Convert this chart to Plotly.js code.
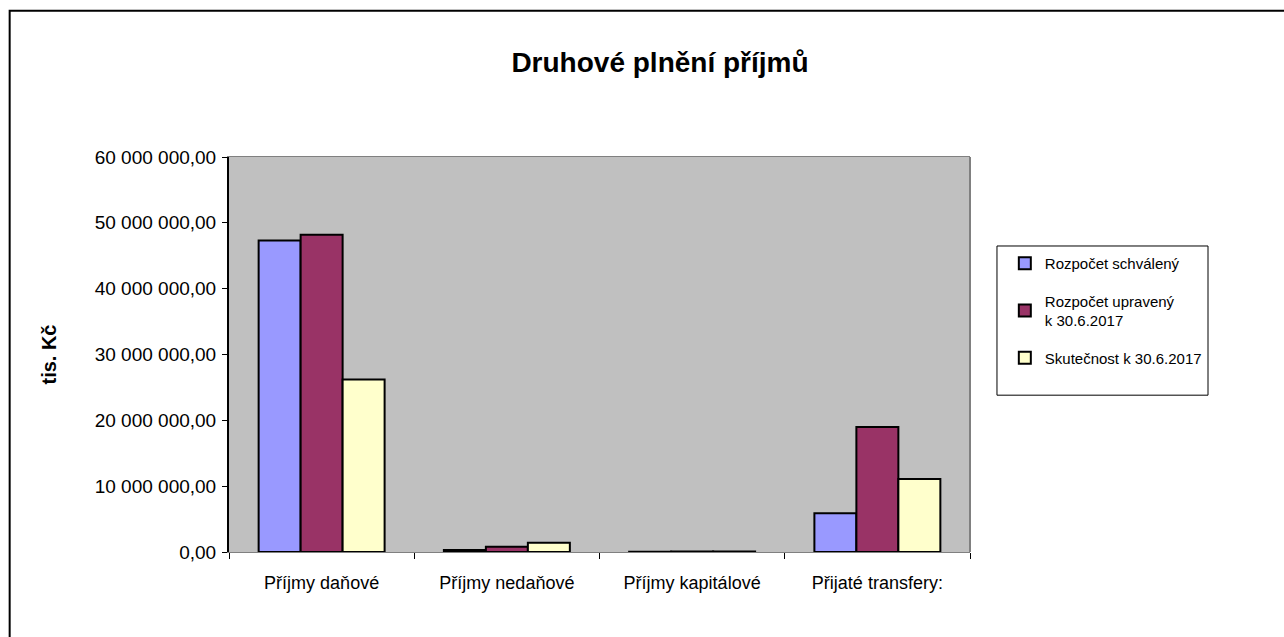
<!DOCTYPE html>
<html>
<head>
<meta charset="utf-8">
<script src="https://cdn.plot.ly/plotly-3.0.1.min.js"></script>
<style>
  html, body { margin: 0; padding: 0; background: #fff; }
  #chart { width: 1284px; height: 637px; }
</style>
</head>
<body>
<div id="chart"></div>
<script>
const categories = ['Příjmy daňové', 'Příjmy nedaňové', 'Příjmy kapitálové', 'Přijaté transfery:'];

const seriesNames = ['Rozpočet schválený', 'Rozpočet upravený<br>k 30.6.2017', 'Skutečnost k 30.6.2017'];
const schvaleny = [47300000, 300000, 50000, 5900000];
const upraveny = [48200000, 800000, 80000, 19000000];
const skutecnost = [26200000, 1400000, 60000, 11100000];
const colors = ['#9999FF', '#993366', '#FFFFCC'];

const sans = 'Liberation Sans, Arial, sans-serif';

const data = [schvaleny, upraveny, skutecnost].map((vals, i) => ({
  type: 'bar',
  x: categories,
  y: vals,
  name: seriesNames[i],
  legendgroup: 'g' + i,
  marker: { color: colors[i], line: { color: '#000', width: 2 } },
  hoverinfo: 'none'
}));

const layout = {
  width: 1284,
  height: 637,
  margin: { l: 229, r: 314, t: 157, b: 85 },
  paper_bgcolor: '#fff',
  plot_bgcolor: '#C0C0C0',
  separators: ', ',
  font: { family: sans, size: 17, color: '#000' },
  title: {
    text: '<b>Druhové plnění příjmů</b>',
    font: { family: sans, size: 28, color: '#000' },
    x: 0.514, xref: 'container', xanchor: 'center',
    y: 0.902, yref: 'container', yanchor: 'middle'
  },
  barmode: 'group',
  bargap: 0.32,
  bargroupgap: 0,
  xaxis: {
    type: 'category',
    showline: true, linecolor: '#808080', linewidth: 1, mirror: true,
    ticks: 'outside', tickson: 'boundaries', ticklen: 6, tickcolor: '#000',
    ticklabelstandoff: 14,
    showgrid: false,
    tickfont: { family: sans, size: 18 }
  },
  yaxis: {
    range: [0, 60000000],
    dtick: 10000000,
    tickformat: ',.2f',
    showline: true, linecolor: '#000', linewidth: 2,
    ticks: 'outside', ticklen: 5, tickcolor: '#000',
    ticklabelstandoff: 2,
    showgrid: false, zeroline: false,
    tickfont: { family: sans, size: 19 },
    title: {
      text: '<b>tis. Kč</b>',
      font: { family: sans, size: 20 },
      standoff: 33
    }
  },
  showlegend: true,
  legend: {
    x: 1.047, xanchor: 'left',
    y: 0.772, yanchor: 'top',
    bgcolor: 'rgba(0,0,0,0)',
    borderwidth: 0,
    font: { family: sans, size: 15 },
    itemwidth: 30,
    tracegroupgap: 15,
    traceorder: 'grouped'
  },
  shapes: [
    { type: 'line', xref: 'paper', yref: 'paper', x0: 1, x1: 1, y0: 0, y1: 1,
      line: { color: '#808080', width: 2 } },
    { type: 'rect', xref: 'paper', yref: 'paper', x0: 1.0364, x1: 1.3212, y0: 0.397, y1: 0.7747,
      line: { color: '#000', width: 1 }, fillcolor: 'rgba(0,0,0,0)' },
    { type: 'rect', xref: 'paper', yref: 'paper', x0: -0.296, x1: 1.5, y0: -0.3, y1: 1.37,
      line: { color: '#000', width: 2 }, fillcolor: 'rgba(0,0,0,0)', layer: 'below' }
  ]
};

Plotly.newPlot('chart', data, layout, { displayModeBar: false, staticPlot: true });
</script>
</body>
</html>
